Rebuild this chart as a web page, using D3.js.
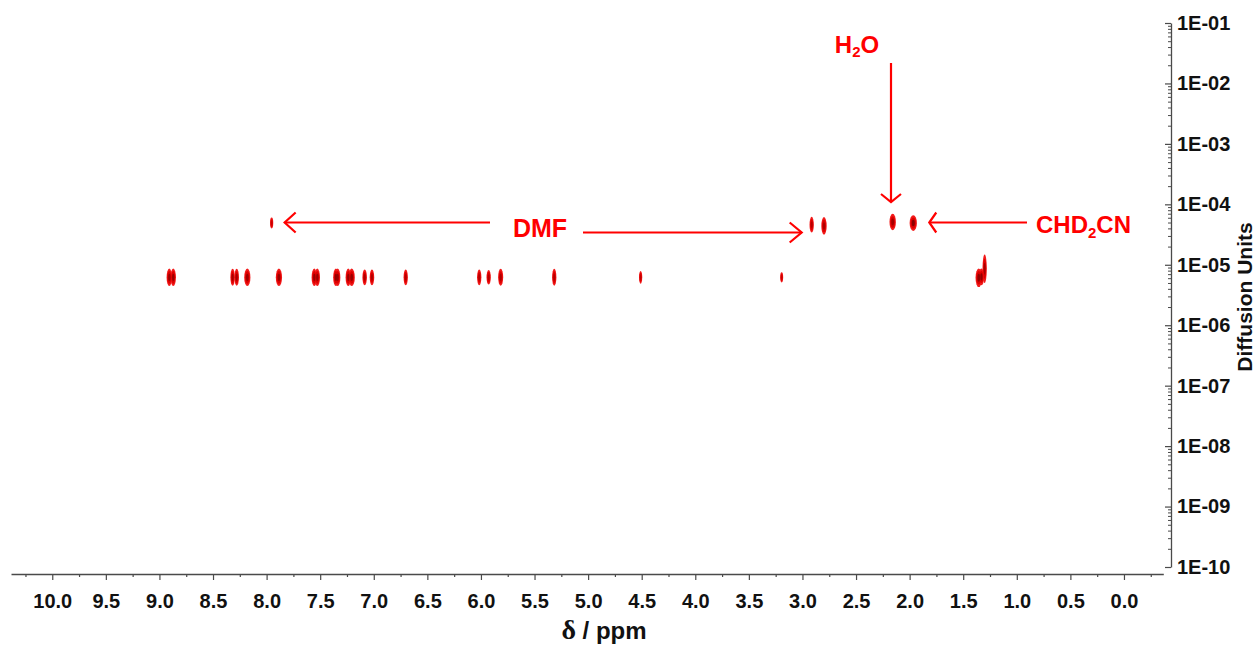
<!DOCTYPE html>
<html>
<head>
<meta charset="utf-8">
<script src="https://cdn.jsdelivr.net/npm/d3@7"></script>
<style>
  html, body { margin: 0; padding: 0; background: #ffffff; }
  svg { display: block; }
  text { font-family: "Liberation Sans", Arial, sans-serif; }
</style>
</head>
<body>
<svg id="chart" width="1258" height="646"></svg>
<script>
// ---------- data ----------
// chemical shift (ppm) of each DOSY cross-peak
const peakPpm = [8.908, 8.871, 8.317, 8.279, 8.180, 7.885, 7.555, 7.527, 7.353, 7.337,
                 7.238, 7.206, 7.085, 7.017, 6.702, 6.016, 5.928, 5.816, 5.316, 4.510,
                 3.194, 1.355, 1.330, 1.300,
                 7.953, 2.914, 2.799, 2.158, 1.966];
// diffusion coefficient of each peak
const peakDiff = [6.2e-6, 6.2e-6, 6.2e-6, 6.2e-6, 6.2e-6, 6.2e-6, 6.2e-6, 6.2e-6, 6.2e-6, 6.2e-6,
                  6.2e-6, 6.2e-6, 6.2e-6, 6.2e-6, 6.2e-6, 6.2e-6, 6.2e-6, 6.2e-6, 6.2e-6, 6.2e-6,
                  6.2e-6, 6.1e-6, 6.3e-6, 8.6e-6,
                  4.9e-5, 4.6e-5, 4.4e-5, 5.1e-5, 4.9e-5];
// peak line width along the shift axis (ppm)
const peakWidth = [0.050, 0.050, 0.042, 0.042, 0.058, 0.058, 0.050, 0.050, 0.052, 0.050,
                   0.050, 0.058, 0.042, 0.042, 0.040, 0.040, 0.040, 0.047, 0.040, 0.030,
                   0.028, 0.060, 0.050, 0.040,
                   0.030, 0.040, 0.050, 0.060, 0.068];
// peak spread along the diffusion axis (decades)
const peakSpread = [0.29, 0.29, 0.28, 0.28, 0.29, 0.29, 0.29, 0.29, 0.29, 0.29,
                    0.29, 0.29, 0.26, 0.26, 0.26, 0.26, 0.24, 0.28, 0.28, 0.21,
                    0.17, 0.31, 0.28, 0.47,
                    0.18, 0.26, 0.29, 0.27, 0.26];
// peak relative intensity (0..1), used for shading
const peakIntensity = [0.8, 0.8, 0.7, 0.7, 0.8, 0.8, 0.8, 0.8, 0.9, 0.8,
                       0.8, 0.8, 0.6, 0.6, 0.5, 0.5, 0.5, 0.6, 0.5, 0.4,
                       0.3, 0.9, 0.9, 0.7,
                       0.3, 0.5, 0.6, 0.7, 1.0];

const xTickValues = [10.0, 9.5, 9.0, 8.5, 8.0, 7.5, 7.0, 6.5, 6.0, 5.5, 5.0,
                     4.5, 4.0, 3.5, 3.0, 2.5, 2.0, 1.5, 1.0, 0.5, 0.0];
const yTickLabels = ["1E-10", "1E-09", "1E-08", "1E-07", "1E-06", "1E-05",
                     "1E-04", "1E-03", "1E-02", "1E-01"];
const xTitle = "\u03B4 / ppm";
const yTitle = "Diffusion Units";

// annotation labels
const annoLabels = ["DMF", "H2O", "CHD2CN"];

// ---------- scales ----------
const svg = d3.select("#chart");
const x = d3.scaleLinear().domain([10.385, -0.367]).range([11, 1163.3]);
const y = d3.scaleLog().domain([1e-10, 1e-1]).range([567, 23]);
const xAxisY = 574;
const yAxisX = 1171;

const axisColor = "#4a4a4a";
const red = "#ff0000";

// ---------- x axis ----------
const xMinor = [];
for (let v = 10.25; v > -0.3; v -= 0.5) xMinor.push(+v.toFixed(2));

const gxMinor = svg.append("g").attr("transform", `translate(0,${xAxisY})`)
  .call(d3.axisBottom(x).tickValues(xMinor).tickSize(3).tickSizeOuter(0).tickFormat(""));
gxMinor.select(".domain").remove();

const gx = svg.append("g").attr("transform", `translate(0,${xAxisY})`)
  .call(d3.axisBottom(x).tickValues(xTickValues).tickSize(6).tickSizeOuter(0)
        .tickPadding(14).tickFormat(d3.format(".1f")));
gx.selectAll("text").attr("font-size", 20).attr("font-weight", "bold")
  .attr("fill", "#111").attr("font-family", "'Liberation Sans', Arial, sans-serif");
svg.selectAll("g .domain").attr("stroke", axisColor).attr("stroke-width", 1.3);
svg.selectAll("g .tick line").attr("stroke", axisColor).attr("stroke-width", 1.2);

// ---------- y axis ----------
const yMinor = [];
for (let e = -10; e < -1; e++) for (let m = 2; m <= 9; m++) yMinor.push(m * Math.pow(10, e));
const yMajor = yTickLabels.map((_, i) => Math.pow(10, -10 + i));

const gyMinor = svg.append("g").attr("transform", `translate(${yAxisX},0)`)
  .call(d3.axisRight(y).tickValues(yMinor).tickSize(-3).tickSizeOuter(0).tickFormat(""));
gyMinor.select(".domain").remove();
gyMinor.selectAll(".tick line").attr("stroke", axisColor).attr("stroke-width", 1);

const gy = svg.append("g").attr("transform", `translate(${yAxisX},0)`)
  .call(d3.axisRight(y).tickValues(yMajor).tickSize(-6).tickSizeOuter(0).tickPadding(6)
        .tickFormat((d, i) => yTickLabels[i]));
gy.select(".domain").attr("stroke", axisColor).attr("stroke-width", 1.3);
gy.selectAll(".tick line").attr("stroke", axisColor).attr("stroke-width", 1.2);
gy.selectAll("text").attr("font-size", 20).attr("font-weight", "bold").attr("fill", "#111")
  .attr("font-family", "'Liberation Sans', Arial, sans-serif");

// axis titles
const xt = svg.append("text").attr("x", 604).attr("y", 639).attr("text-anchor", "middle")
  .attr("font-size", 24).attr("font-weight", "bold").attr("fill", "#111");
xt.append("tspan").attr("font-family", "'Liberation Serif', 'Times New Roman', serif")
  .attr("font-weight", "bold").attr("font-size", 28).text(xTitle.charAt(0));
xt.append("tspan").text(xTitle.slice(1));

svg.append("text").attr("transform", "translate(1252,297) rotate(-90)")
  .attr("text-anchor", "middle").attr("font-size", 21).attr("font-weight", "bold")
  .attr("fill", "#111").text(yTitle);

// ---------- peaks ----------
const peaks = peakPpm.map((p, i) => ({
  p, d: peakDiff[i], w: peakWidth[i], s: peakSpread[i], k: peakIntensity[i]
}));
const shade = d3.scaleLinear().domain([0, 1]).range(["#e00000", "#8a0000"]);
const gp = svg.append("g");
const layers = [
  { f: 1.0, col: d => "#f21a1a" },
  { f: 0.72, col: d => "#dd0000" },
  { f: 0.42, col: d => shade(d.k) }
];
layers.forEach(L => {
  gp.selectAll(null).data(peaks).enter().append("ellipse")
    .attr("cx", d => x(d.p))
    .attr("cy", d => y(d.d))
    .attr("rx", d => Math.abs(x(d.p + d.w / 2) - x(d.p - d.w / 2)) / 2 * L.f)
    .attr("ry", d => Math.abs(y(d.d * Math.pow(10, d.s / 2)) - y(d.d / Math.pow(10, d.s / 2))) / 2 * L.f)
    .attr("fill", L.col);
});

// ---------- annotations ----------
function arrow(x1, y1, x2, y2, hl, hw) {
  const ang = Math.atan2(y2 - y1, x2 - x1);
  const bx = x2 - hl * Math.cos(ang), by = y2 - hl * Math.sin(ang);
  const px = -Math.sin(ang) * hw, py = Math.cos(ang) * hw;
  svg.append("line").attr("x1", x1).attr("y1", y1).attr("x2", x2).attr("y2", y2)
    .attr("stroke", red).attr("stroke-width", 2.2);
  svg.append("path")
    .attr("d", `M${bx + px},${by + py}L${x2},${y2}L${bx - px},${by - py}`)
    .attr("fill", "none").attr("stroke", red).attr("stroke-width", 2.2);
}

// DMF
svg.append("text").attr("x", 540).attr("y", 237).attr("text-anchor", "middle")
  .attr("font-size", 25).attr("font-weight", "bold").attr("fill", red).text(annoLabels[0]);
arrow(490, 222.5, x(7.953) + 13, 222.5, 11, 10);
arrow(583, 232.5, x(2.914) - 10, 232.5, 12, 10);

// H2O
const h2o = svg.append("text").attr("x", 857).attr("y", 53).attr("text-anchor", "middle")
  .attr("font-size", 24).attr("font-weight", "bold").attr("fill", red);
h2o.append("tspan").text("H");
h2o.append("tspan").attr("font-size", 15).attr("dy", 4).text("2");
h2o.append("tspan").attr("dy", -4).text("O");
arrow(891, 63, 891, y(5.1e-5) - 20, 8, 10);

// CHD2CN
const chd = svg.append("text").attr("x", 1036).attr("y", 233).attr("text-anchor", "start")
  .attr("font-size", 24).attr("font-weight", "bold").attr("fill", red);
chd.append("tspan").text("CHD");
chd.append("tspan").attr("font-size", 15).attr("dy", 5).text("2");
chd.append("tspan").attr("dy", -5).text("CN");
arrow(1027, 222.5, x(1.966) + 16, 222.5, 7, 10);
</script>
</body>
</html>
